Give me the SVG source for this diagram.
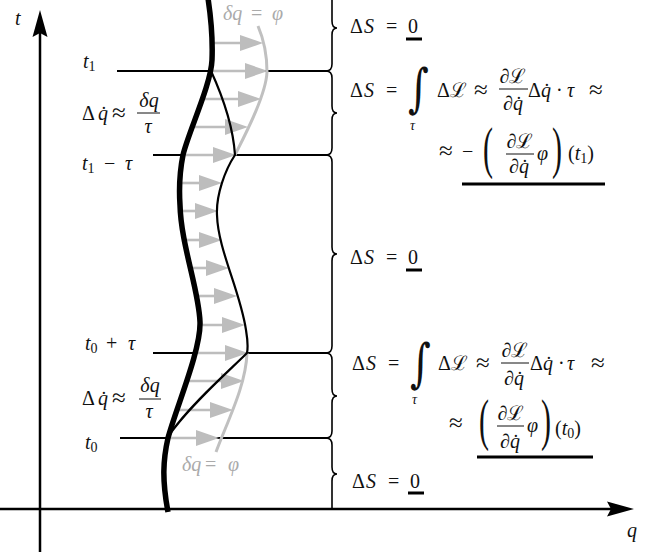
<svg xmlns="http://www.w3.org/2000/svg" width="660" height="552" viewBox="0 0 660 552" font-family="'Liberation Serif', serif">
<style>
.ax{stroke:#000;stroke-width:2.5;fill:none}
.hl{stroke:#000;stroke-width:2;fill:none}
.thick{stroke:#000;stroke-width:5.5;fill:none}
.thin{stroke:#000;stroke-width:2.2;fill:none;stroke-miterlimit:10}
.gc{stroke:#c0c0c0;stroke-width:3;fill:none}
.ga{stroke:#bdbdbd;stroke-width:2.6;marker-end:url(#garrow)}
.br{stroke:#000;stroke-width:1.6;fill:none}
.bar{stroke:#111;stroke-width:1}
.ul{stroke:#000;stroke-width:3}
text{font-family:'Liberation Serif',serif;font-size:20px;fill:#111}
.i{font-style:italic}
.s{font-size:14px}
.g{fill:#aaa}
.ap{font-size:25px}
.big{font-size:30px}
.int{font-family:'DejaVu Serif',serif;font-size:40px;font-style:italic}
</style>
<defs>
<marker id="garrow" markerUnits="userSpaceOnUse" viewBox="0 0 24 16" markerWidth="24" markerHeight="16" refX="12" refY="8" orient="auto">
<path d="M0,0 L23,8 L0,16 Z" fill="#bdbdbd"/>
</marker>
</defs>

<g id="axes">
<line class="ax" x1="40" y1="552" x2="40" y2="30"/>
<path d="M40,10 L47.5,37 L40,33 L32.5,37 Z" fill="#000"/>
<line class="ax" x1="0" y1="509" x2="612" y2="509"/>
<path d="M634,509 L607,501.5 L611,509 L607,516.5 Z" fill="#000"/>
<text x="15" y="25" class="i">t</text>
<text x="627" y="537" class="i">q</text>
</g>

<g id="time-lines">
<line class="hl" x1="117" y1="71" x2="327" y2="71"/>
<line class="hl" x1="153" y1="155" x2="327" y2="155"/>
<line class="hl" x1="153" y1="353" x2="327" y2="353"/>
<line class="hl" x1="120" y1="438" x2="327" y2="438"/>
</g>

<g id="variation-arrows">
<line class="ga" x1="213" y1="43" x2="252" y2="43"/>
<line class="ga" x1="211" y1="71" x2="257" y2="71"/>
<line class="ga" x1="200" y1="99" x2="250" y2="99"/>
<line class="ga" x1="191" y1="127" x2="237" y2="127"/>
<line class="ga" x1="183" y1="155" x2="225" y2="155"/>
<line class="ga" x1="179" y1="183" x2="211" y2="183"/>
<line class="ga" x1="180" y1="211" x2="207" y2="211"/>
<line class="ga" x1="185" y1="240" x2="211" y2="240"/>
<line class="ga" x1="190" y1="268" x2="218" y2="268"/>
<line class="ga" x1="195" y1="296" x2="226" y2="296"/>
<line class="ga" x1="199" y1="325" x2="234" y2="325"/>
<line class="ga" x1="197" y1="353" x2="237" y2="353"/>
<line class="ga" x1="188" y1="381" x2="233" y2="381"/>
<line class="ga" x1="178" y1="410" x2="222" y2="410"/>
<line class="ga" x1="168" y1="438" x2="208" y2="438"/>
</g>

<g id="curves">
<path class="gc" d="M258,26 C264,40 267,55 267,72 C266,95 245,135 235,155"/>
<path class="gc" d="M247,353 C246,385 228,420 216,452"/>
<path class="thin" d="M211,71 C222,95 233,125 235,155 C225,170 216,195 217,215 C218,250 240,290 246,330 C248,342 248,348 247,353 C230,370 190,405 170,434"/>
<path class="thick" d="M207,-8 C210,10 213,35 212,60 C211,85 188,133 183,155 C179,175 179,190 180,205 C181,245 199,290 200,322 C201,350 176,408 168,438 C163,460 162,480 168,512"/>
</g>

<g id="braces">
<path class="br" d="M332,-15 L332,21 Q332,28 337,28 Q332,28 332,35 L332,64 Q332,71 326,71"/>
<path class="br" d="M326,71 Q332,71 332,78 L332,106 Q332,113 337,113 Q332,113 332,120 L332,148 Q332,155 326,155"/>
<path class="br" d="M326,155 Q332,155 332,162 L332,247 Q332,254 337,254 Q332,254 332,261 L332,346 Q332,353 326,353"/>
<path class="br" d="M326,353 Q332,353 332,360 L332,389 Q332,396 337,396 Q332,396 332,403 L332,431 Q332,438 326,438"/>
<path class="br" d="M326,438 Q332,438 332,445 L332,467 Q332,474 337,474 Q332,474 332,481 L332,510"/>
</g>

<g id="left-labels">
<text x="83" y="68"><tspan class="i">t</tspan><tspan class="s" dy="3">1</tspan></text>
<text x="82" y="120">Δ</text><text x="98" y="120" class="i">q&#x307;</text><text x="112" y="121" class="ap">≈</text>
<text x="149" y="107" class="i" text-anchor="middle">δq</text><line class="bar" x1="137" y1="113" x2="160" y2="113"/><text x="148" y="133" class="i" text-anchor="middle">τ</text>
<text x="82" y="170"><tspan class="i">t</tspan><tspan class="s" dy="3">1</tspan></text><text x="104" y="170">−</text><text x="125" y="170" class="i">τ</text>
<text x="85" y="350"><tspan class="i">t</tspan><tspan class="s" dy="3">0</tspan></text><text x="106" y="350">+</text><text x="128" y="350" class="i">τ</text>
<text x="82" y="405">Δ</text><text x="98" y="405" class="i">q&#x307;</text><text x="112" y="406" class="ap">≈</text>
<text x="150" y="392" class="i" text-anchor="middle">δq</text><line class="bar" x1="139" y1="399" x2="161" y2="399"/><text x="149" y="418" class="i" text-anchor="middle">τ</text>
<text x="85" y="449"><tspan class="i">t</tspan><tspan class="s" dy="3">0</tspan></text>
<text x="223" y="20" class="g"><tspan class="i">δq</tspan><tspan x="251">=</tspan><tspan x="272" class="i">φ</tspan></text>
<text x="182" y="471" class="g"><tspan class="i">δq</tspan><tspan x="205">=</tspan><tspan x="228" class="i">φ</tspan></text>
</g>

<g id="formula-top">
<text x="350" y="33">Δ<tspan x="364" class="i">S</tspan><tspan x="386">=</tspan><tspan x="408">0</tspan></text>
<line class="ul" x1="406" y1="39" x2="422" y2="39"/>
</g>

<g id="formula-t1">
<text x="350" y="97">Δ<tspan x="364" class="i">S</tspan><tspan x="386">=</tspan></text>
<text class="int" transform="translate(408,106) scale(1,1.3)">∫</text>
<text x="410" y="130" class="s i">τ</text>
<text x="437" y="97">Δ&#x2112;</text><text x="474" y="98" class="ap">≈</text>
<text x="513" y="83" text-anchor="middle">∂&#x2112;</text><line class="bar" x1="499" y1="89" x2="528" y2="89"/><text x="513" y="110" text-anchor="middle">∂<tspan class="i">q&#x307;</tspan></text>
<text x="528" y="97">Δ<tspan class="i">q&#x307;</tspan></text><text x="556" y="97">·</text><text x="567" y="97" class="i">τ</text><text x="589" y="98" class="ap">≈</text>
<text x="439" y="159" class="ap">≈</text><text x="462" y="158">−</text>
<text class="big" transform="translate(483,167) scale(1,1.9)">(</text>
<text x="520" y="148" text-anchor="middle">∂&#x2112;</text><line class="bar" x1="506" y1="154" x2="534" y2="154"/><text x="519" y="173" text-anchor="middle">∂<tspan class="i">q&#x307;</tspan></text>
<text x="537" y="160" class="i">φ</text>
<text class="big" transform="translate(552,167) scale(1,1.9)">)</text>
<text x="568" y="160">(<tspan class="i">t</tspan><tspan class="s" dy="3">1</tspan><tspan dy="-3">)</tspan></text>
<line class="ul" x1="462" y1="184" x2="605" y2="184"/>
</g>

<g id="formula-mid">
<text x="350" y="264">Δ<tspan x="364" class="i">S</tspan><tspan x="386">=</tspan><tspan x="408">0</tspan></text>
<line class="ul" x1="406" y1="270" x2="422" y2="270"/>
</g>

<g id="formula-t0">
<text x="352" y="370">Δ<tspan x="366" class="i">S</tspan><tspan x="388">=</tspan></text>
<text class="int" transform="translate(410,381) scale(1,1.3)">∫</text>
<text x="412" y="404" class="s i">τ</text>
<text x="438" y="370">Δ&#x2112;</text><text x="476" y="371" class="ap">≈</text>
<text x="515" y="357" text-anchor="middle">∂&#x2112;</text><line class="bar" x1="501" y1="363" x2="529" y2="363"/><text x="514" y="385" text-anchor="middle">∂<tspan class="i">q&#x307;</tspan></text>
<text x="530" y="370">Δ<tspan class="i">q&#x307;</tspan></text><text x="558" y="370">·</text><text x="567" y="370" class="i">τ</text><text x="591" y="371" class="ap">≈</text>
<text x="449" y="431" class="ap">≈</text>
<text class="big" transform="translate(479,439) scale(1,1.9)">(</text>
<text x="511" y="420" text-anchor="middle">∂&#x2112;</text><line class="bar" x1="497" y1="426" x2="524" y2="426"/><text x="510" y="448" text-anchor="middle">∂<tspan class="i">q&#x307;</tspan></text>
<text x="527" y="432" class="i">φ</text>
<text class="big" transform="translate(541,439) scale(1,1.9)">)</text>
<text x="555" y="435">(<tspan class="i">t</tspan><tspan class="s" dy="3">0</tspan><tspan dy="-3">)</tspan></text>
<line class="ul" x1="477" y1="457" x2="593" y2="457"/>
</g>

<g id="formula-bottom">
<text x="352" y="488">Δ<tspan x="366" class="i">S</tspan><tspan x="388">=</tspan><tspan x="410">0</tspan></text>
<line class="ul" x1="408" y1="493" x2="424" y2="493"/>
</g>
</svg>
